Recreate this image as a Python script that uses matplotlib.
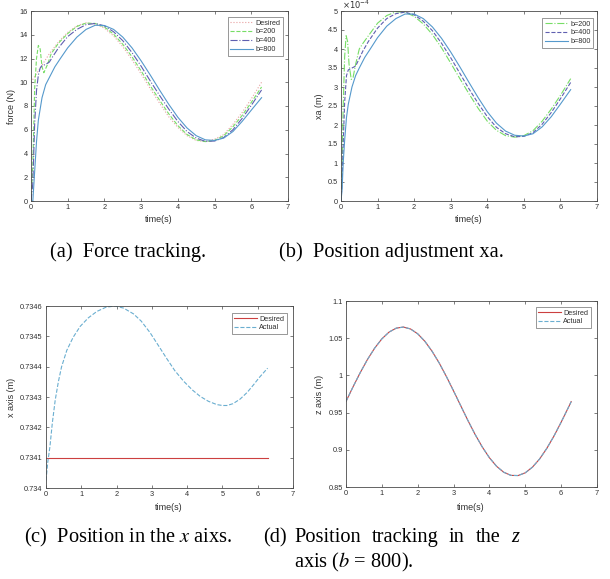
import matplotlib
matplotlib.use("Agg")
import matplotlib.pyplot as plt
from matplotlib.ticker import FuncFormatter, MultipleLocator

# ---------------- data ----------------
# (a) force tracking
t_fd = [0, 0.25, 0.5, 0.75, 1.0, 1.25, 1.5, 1.75, 2.0, 2.25, 2.5, 2.75, 3.0, 3.25, 3.5,
        3.75, 4.0, 4.25, 4.5, 4.75, 5.0, 5.25, 5.5, 5.75, 6.0, 6.28]
f_desired = [10.0, 11.2, 12.4, 13.4, 14.2, 14.75, 15.0, 14.9, 14.55, 13.9, 13.0, 11.9, 10.7,
             9.45, 8.25, 7.1, 6.2, 5.5, 5.1, 5.0, 5.2, 5.6, 6.45, 7.45, 8.6, 10.0]

t_f200 = [0, 0.05, 0.1, 0.15, 0.2, 0.25, 0.3, 0.35, 0.45, 0.55, 0.75, 1.0, 1.25, 1.5, 1.75,
          2.0, 2.25, 2.5, 2.75, 3.0, 3.25, 3.5, 3.75, 4.0, 4.25, 4.5, 4.75, 5.0, 5.25, 5.5,
          5.75, 6.0, 6.28]
f_b200 = [0, 3.0, 9.5, 12.0, 13.1, 12.8, 11.3, 10.8, 11.5, 12.4, 13.3, 14.1, 14.7, 14.98,
          14.95, 14.65, 14.05, 13.2, 12.15, 10.95, 9.7, 8.5, 7.35, 6.35, 5.6, 5.15, 5.0, 5.1,
          5.5, 6.25, 7.2, 8.3, 9.6]

t_f400 = [0, 0.05, 0.1, 0.15, 0.2, 0.25, 0.3, 0.4, 0.5, 0.6, 0.75, 1.0, 1.25, 1.5, 1.75,
          2.0, 2.25, 2.5, 2.75, 3.0, 3.25, 3.5, 3.75, 4.0, 4.25, 4.5, 4.75, 5.0, 5.25, 5.5,
          5.75, 6.0, 6.28]
f_b400 = [0, 1.5, 6.5, 9.3, 10.6, 11.2, 11.4, 11.5, 11.7, 12.2, 12.9, 13.85, 14.45, 14.85,
          14.95, 14.75, 14.25, 13.5, 12.5, 11.35, 10.1, 8.9, 7.75, 6.7, 5.85, 5.3, 5.02, 5.05,
          5.35, 6.0, 6.95, 8.05, 9.35]

t_f800 = [0, 0.05, 0.1, 0.15, 0.2, 0.3, 0.4, 0.5, 0.65, 0.8, 1.0, 1.25, 1.5, 1.75, 2.0,
          2.25, 2.5, 2.75, 3.0, 3.25, 3.5, 3.75, 4.0, 4.25, 4.5, 4.75, 5.0, 5.25, 5.5, 5.75,
          6.0, 6.28]
f_b800 = [0, 0, 2.5, 5.0, 6.8, 8.7, 9.8, 10.4, 11.3, 12.0, 12.9, 13.8, 14.45, 14.8, 14.78,
          14.45, 13.8, 12.9, 11.8, 10.6, 9.35, 8.15, 7.05, 6.15, 5.5, 5.15, 5.1, 5.3, 5.85,
          6.7, 7.65, 8.7]

# (b) position adjustment xa, in units of 1e-4 m
t_x200 = [0, 0.03, 0.06, 0.1, 0.14, 0.18, 0.22, 0.28, 0.33, 0.4, 0.5, 0.6, 0.75, 1.0, 1.25,
          1.5, 1.75, 2.0, 2.25, 2.5, 2.75, 3.0, 3.25, 3.5, 3.75, 4.0, 4.25, 4.5, 4.75, 5.0,
          5.25, 5.5, 5.75, 6.0, 6.28]
xa_b200 = [0, 1.0, 2.5, 3.8, 4.35, 4.2, 3.6, 3.2, 3.25, 3.6, 4.0, 4.15, 4.35, 4.68, 4.88,
           4.98, 4.97, 4.86, 4.66, 4.38, 4.03, 3.63, 3.22, 2.82, 2.44, 2.1, 1.86, 1.72, 1.68,
           1.72, 1.85, 2.1, 2.42, 2.78, 3.22]

t_x400 = [0, 0.03, 0.06, 0.1, 0.15, 0.2, 0.3, 0.4, 0.5, 0.6, 0.75, 1.0, 1.25, 1.5, 1.75,
          2.0, 2.25, 2.5, 2.75, 3.0, 3.25, 3.5, 3.75, 4.0, 4.25, 4.5, 4.75, 5.0, 5.25, 5.5,
          5.75, 6.0, 6.28]
xa_b400 = [0, 0.5, 1.5, 2.6, 3.3, 3.45, 3.5, 3.55, 3.75, 3.95, 4.2, 4.55, 4.8, 4.93, 4.97,
           4.9, 4.73, 4.48, 4.15, 3.77, 3.36, 2.95, 2.57, 2.22, 1.94, 1.77, 1.69, 1.7, 1.8,
           2.02, 2.33, 2.69, 3.12]

t_x800 = [0, 0.03, 0.06, 0.1, 0.15, 0.2, 0.3, 0.4, 0.5, 0.65, 0.8, 1.0, 1.25, 1.5, 1.75,
          2.0, 2.25, 2.5, 2.75, 3.0, 3.25, 3.5, 3.75, 4.0, 4.25, 4.5, 4.75, 5.0, 5.25, 5.5,
          5.75, 6.0, 6.28]
xa_b800 = [0, 0.3, 1.0, 1.6, 2.2, 2.55, 3.0, 3.3, 3.5, 3.78, 4.0, 4.3, 4.6, 4.8, 4.92,
           4.92, 4.8, 4.58, 4.28, 3.92, 3.53, 3.12, 2.72, 2.35, 2.05, 1.84, 1.73, 1.71, 1.77,
           1.95, 2.22, 2.55, 2.93]

# (c) position in the x axis
t_xd = [0, 6.28]
x_desired = [0.7341, 0.7341]
t_xact = [0, 0.05, 0.11, 0.18, 0.26, 0.35, 0.44, 0.59, 0.77, 0.97, 1.2, 1.44, 1.7, 1.96,
          2.2, 2.48, 2.7, 2.95, 3.2, 3.42, 3.65, 3.9, 4.15, 4.37, 4.6, 4.84, 5.0, 5.13, 5.3,
          5.5, 5.7, 5.88, 6.05, 6.28]
x_actual = [0.734025, 0.734085, 0.734135, 0.734215, 0.734289, 0.734350, 0.734399, 0.734454,
            0.734497, 0.734533, 0.734561, 0.734582, 0.734596, 0.734600, 0.734593, 0.734574,
            0.734550, 0.734512, 0.734467, 0.734427, 0.734387, 0.734352, 0.734323, 0.734302,
            0.734286, 0.734275, 0.734272, 0.734272, 0.734278, 0.734293, 0.734315, 0.734340,
            0.734365, 0.734395]

# (d) position tracking in the z axis (b = 800)
t_z = [0, 0.2, 0.4, 0.6, 0.8, 1.0, 1.2, 1.4, 1.6, 1.8, 2.0, 2.2, 2.4, 2.6, 2.8, 3.0, 3.2,
       3.4, 3.6, 3.8, 4.0, 4.2, 4.4, 4.6, 4.8, 5.0, 5.2, 5.4, 5.6, 5.8, 6.0, 6.2, 6.28]
z_desired = [0.965, 0.985, 1.004, 1.0215, 1.0367, 1.0491, 1.0582, 1.0635, 1.065, 1.0624,
             1.0559, 1.0458, 1.0325, 1.0166, 0.9985, 0.9791, 0.9592, 0.9394, 0.9207, 0.9038,
             0.8893, 0.8778, 0.8698, 0.8656, 0.8654, 0.8691, 0.8767, 0.8877, 0.9019, 0.9185,
             0.9371, 0.9567, 0.9647]
z_actual = [0.965, 0.985, 1.004, 1.0215, 1.0367, 1.0491, 1.0582, 1.0635, 1.065, 1.0624,
            1.0559, 1.0458, 1.0325, 1.0166, 0.9985, 0.9791, 0.9592, 0.9394, 0.9207, 0.9038,
            0.8893, 0.8778, 0.8698, 0.8656, 0.8654, 0.8691, 0.8767, 0.8877, 0.9019, 0.9185,
            0.9371, 0.9567, 0.9647]

captions = ["(a)  Force tracking.", "(b)  Position adjustment xa."]
caption_d_words = ["Position", "tracking", "in", "the", "z"]

# ---------------- style ----------------
W, H = 610, 579
fig = plt.figure(figsize=(W / 100, H / 100), dpi=100)
SANS = ["Liberation Sans", "DejaVu Sans"]
SERIF = ["Liberation Serif", "DejaVu Serif"]
TXT = "#303030"
EDGE = "#4a4a4a"
C_DES = "#e8a0a0"
C_200 = "#77dd66"
C_400 = "#5f5fb0"
C_800 = "#5599cc"
C_RED = "#cc4040"
C_ACT = "#6aaed0"


def ax_px(l, r, t, b):
    return fig.add_axes([l / W, 1 - b / H, (r - l) / W, (b - t) / H])


def style(ax):
    for s in ax.spines.values():
        s.set_color(EDGE)
        s.set_linewidth(0.6)
    ax.tick_params(direction="in", length=2.5, width=0.5, colors=EDGE,
                   labelcolor=TXT, labelsize=5.3, top=True, right=True, pad=2.5)
    for lab in ax.get_xticklabels() + ax.get_yticklabels():
        lab.set_family(SANS)
    ax.set_xlim(0, 7)
    ax.xaxis.set_major_locator(MultipleLocator(1))
    ax.xaxis.set_major_formatter(FuncFormatter(lambda v, p: "%g" % v))
    ax.yaxis.set_major_formatter(FuncFormatter(lambda v, p: "%g" % round(v, 6)))
    return ax


def labels(xlabel, ylabel, xl_pos, yl_pos):
    fig.text(xl_pos[0] / W, 1 - xl_pos[1] / H, xlabel, ha="center", va="center",
             fontsize=6.5, color=TXT, family=SANS)
    fig.text(yl_pos[0] / W, 1 - yl_pos[1] / H, ylabel, ha="center", va="center",
             fontsize=6.5, color=TXT, family=SANS, rotation=90)


def legend(ax, right, top):
    lg = ax.legend(loc="upper right", bbox_to_anchor=(right / W, 1 - top / H),
                   bbox_transform=fig.transFigure, prop={"family": SANS, "size": 5.2},
                   frameon=True, fancybox=False, handlelength=3.2, handletextpad=0.3,
                   borderpad=0.35, labelspacing=0.25, borderaxespad=0)
    lg.get_frame().set_edgecolor(EDGE)
    lg.get_frame().set_linewidth(0.5)
    for txt in lg.get_texts():
        txt.set_color(TXT)
    return lg


LW = 0.8

# (a)
axa = ax_px(31, 288, 11, 201)
axa.plot(t_fd, f_desired, ":", color=C_DES, lw=LW, label="Desired")
axa.plot(t_f200, f_b200, "--", color=C_200, lw=LW, label="b=200")
axa.plot(t_f400, f_b400, "-.", color=C_400, lw=LW, label="b=400")
axa.plot(t_f800, f_b800, "-", color=C_800, lw=LW, label="b=800")
axa.set_ylim(0, 16)
axa.yaxis.set_major_locator(MultipleLocator(2))
style(axa)
labels("time(s)", "force (N)", (159, 220), (12, 106))
legend(axa, 283, 17)

# (b)
axb = ax_px(341, 597, 11, 201)
axb.plot(t_x200, xa_b200, "-.", color=C_200, lw=LW, label="b=200")
axb.plot(t_x400, xa_b400, "--", color=C_400, lw=LW, label="b=400")
axb.plot(t_x800, xa_b800, "-", color=C_800, lw=LW, label="b=800")
axb.set_ylim(0, 5)
axb.yaxis.set_major_locator(MultipleLocator(0.5))
style(axb)
labels("time(s)", "xa (m)", (469, 220), (320, 106))
legend(axb, 593, 18)
fig.text(342 / W, 1 - 5 / H, r"$\times10^{-4}$", ha="left", va="center",
         fontsize=6, color=TXT, family=SANS)

# (c)
axc = ax_px(46, 293, 306, 488)
axc.plot(t_xd, x_desired, "-", color=C_RED, lw=LW, label="Desired")
axc.plot(t_xact, x_actual, "--", color=C_ACT, lw=LW, label="Actual")
axc.set_ylim(0.7340, 0.7346)
axc.yaxis.set_major_locator(MultipleLocator(0.0001))
style(axc)
labels("time(s)", "x axis (m)", (169, 507), (12, 397))
legend(axc, 287, 313)

# (d)
axd = ax_px(346, 597, 301, 487)
axd.plot(t_z, z_desired, "-", color=C_RED, lw=LW, label="Desired")
axd.plot(t_z, z_actual, "--", color=C_ACT, lw=LW, label="Actual")
axd.set_ylim(0.85, 1.1)
axd.yaxis.set_major_locator(MultipleLocator(0.05))
style(axd)
labels("time(s)", "z axis (m)", (471, 507), (320, 394))
legend(axd, 591, 307)

# ---------------- captions ----------------
CF = 14.7


def cap(x, y, s, ha="left", va="baseline", style_="normal"):
    return fig.text(x / W, 1 - y / H, s, ha=ha, va=va, fontsize=CF, color="black",
                    family=SERIF, style=style_, math_fontfamily="stix")


cap(128, 257, captions[0], ha="center")
cap(391, 257, captions[1], ha="center")
cap(128, 542, r"(c)  Position in the $\it{x}$ aixs.", ha="center")
cap(263, 542, "(d)")

# justified first line of caption (d), between x=294 and x=519
renderer = fig.canvas.get_renderer()
words = []
for i, w in enumerate(caption_d_words):
    words.append(cap(0, 542, w, style_="italic" if i == len(caption_d_words) - 1 else "normal"))
widths = [t.get_window_extent(renderer).width for t in words]
x0, x1 = 294, 519
gap = (x1 - x0 - sum(widths)) / (len(words) - 1)
x = x0
for t, wd in zip(words, widths):
    t.set_x(x / W)
    x += wd + gap

cap(294, 567, r"axis ($\it{b}$ = 800).")

fig.savefig("out.png", dpi=100)
